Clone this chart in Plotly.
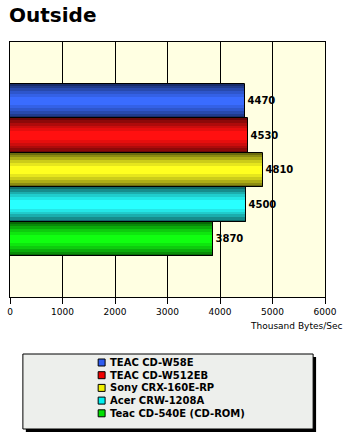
import plotly.graph_objects as go

# ---- data ----
drives = ["TEAC CD-W58E", "TEAC CD-W512EB", "Sony CRX-160E-RP", "Acer CRW-1208A", "Teac CD-540E (CD-ROM)"]
speeds = [4470, 4530, 4810, 4500, 3870]
x_ticks = [0, 1000, 2000, 3000, 4000, 5000, 6000]
title_text = "Outside"
axis_title = "Thousand Bytes/Sec"

# ---- styles ----
base_colors = ["#2E5CF0", "#F00000", "#F0F000", "#00F0F0", "#00E000"]
# full-brightness rgb of each series, shaded into a cylinder look
bright_rgb = [(58, 108, 255), (255, 16, 16), (255, 255, 32), (40, 255, 255), (16, 255, 16)]
shade_levels = [0.42, 0.55, 0.68, 0.80, 0.90, 1.0]
layer_widths = [1.0, 0.88, 0.74, 0.58, 0.42, 0.24]

def shade(rgb, f):
    return "rgb(%d,%d,%d)" % tuple(int(round(c * f)) for c in rgb)

W, H = 347, 435
ml, mr, mt, mb = 7, 22, 42, 138
pw, ph = W - ml - mr, H - mt - mb

def px_x(px):
    return (px - ml) / pw

def px_y(py):
    return (H - mb - py) / ph

fig = go.Figure()
for f, w in zip(shade_levels, layer_widths):
    fig.add_trace(go.Bar(
        y=drives, x=speeds, orientation="h", width=w,
        marker=dict(color=[shade(c, f) for c in bright_rgb], line=dict(width=0)),
        showlegend=False, hoverinfo="skip",
    ))
# outline + value labels on top
fig.add_trace(go.Bar(
    y=drives, x=speeds, orientation="h", width=1.0,
    marker=dict(color="rgba(0,0,0,0)", line=dict(color="black", width=1)),
    text=[str(v) for v in speeds], textposition="outside",
    textfont=dict(family="DejaVu Sans", size=10, color="black", weight="bold"),
    cliponaxis=False, showlegend=False, hoverinfo="skip",
))

fig.update_layout(
    width=W, height=H, margin=dict(l=ml, r=mr, t=mt, b=mb),
    barmode="overlay", bargap=0,
    paper_bgcolor="white", plot_bgcolor="#FFFFE2",
    showlegend=False,
    xaxis=dict(range=[0, 6000], tickvals=x_ticks, ticktext=[str(t) for t in x_ticks],
               showgrid=True, gridcolor="black", gridwidth=1,
               showline=True, linecolor="black", linewidth=1, mirror=True,
               ticks="outside", ticklen=6, tickcolor="black",
               tickfont=dict(family="DejaVu Sans", size=9, color="black"),
               zeroline=False, fixedrange=True),
    yaxis=dict(categoryorder="array", categoryarray=drives[::-1],
               range=[-1.69, 5.72], showticklabels=False, ticks="",
               showline=True, linecolor="black", linewidth=1, mirror=True,
               showgrid=False, zeroline=False, fixedrange=True),
)

anns = [
    dict(text="<b>" + title_text + "</b>", x=px_x(4), y=px_y(15), xref="paper", yref="paper",
         xanchor="left", yanchor="middle", showarrow=False,
         font=dict(family="DejaVu Sans", size=20, color="black")),
    dict(text=axis_title, x=px_x(344), y=px_y(326), xref="paper", yref="paper",
         xanchor="right", yanchor="middle", showarrow=False,
         font=dict(family="DejaVu Sans", size=9, color="black")),
]

shapes = [
    # legend shadow
    dict(type="rect", xref="paper", yref="paper", x0=px_x(23), x1=px_x(316), y0=px_y(357), y1=px_y(432),
         fillcolor="black", line=dict(width=0), layer="above"),
    # legend box
    dict(type="rect", xref="paper", yref="paper", x0=px_x(20), x1=px_x(313), y0=px_y(354), y1=px_y(429),
         fillcolor="#EDEFEC", line=dict(color="black", width=1), layer="above"),
]
row0, row_step = 362.5, 12.7
for k, (name, col) in enumerate(zip(drives, base_colors)):
    cy = row0 + k * row_step
    shapes.append(dict(type="rect", xref="paper", yref="paper",
                       x0=px_x(96), x1=px_x(103), y0=px_y(cy + 3.5), y1=px_y(cy - 3.5),
                       fillcolor=col, line=dict(color="black", width=1), layer="above"))
    anns.append(dict(text="<b>" + name + "</b>", x=px_x(106), y=px_y(cy), xref="paper", yref="paper",
                     xanchor="left", yanchor="middle", showarrow=False,
                     font=dict(family="DejaVu Sans", size=10, color="black")))

fig.update_layout(annotations=anns, shapes=shapes)
fig.write_html("out.html", config={"displayModeBar": False})
